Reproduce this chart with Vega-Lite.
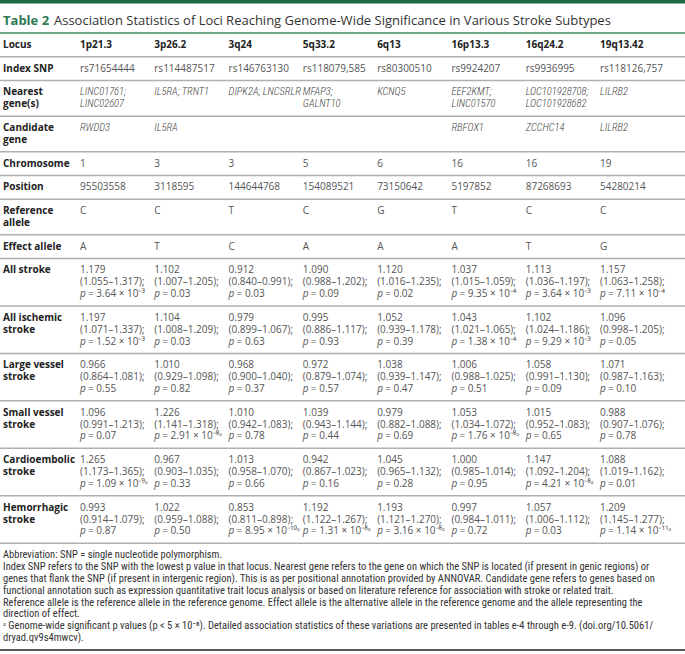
{
"$schema":"https://vega.github.io/schema/vega-lite/v6.json",
"width":685,"height":654,"autosize":{"type":"none"},"padding":0,
"background":"white",
"config":{"view":{"stroke":null},"text":{"align":"left","baseline":"middle","font":"Open Sans"}},
"resolve":{"scale":{"x":"independent"}},
"data":{"values":[
{"slot":"title","col":"label","style":"t1","text":"Table 2"},
{"slot":"title","col":"label","style":"t2","text":"Association Statistics of Loci Reaching Genome-Wide Significance in Various Stroke Subtypes"},
{"slot":"band","style":"band"},{"slot":"top","style":"green"},{"slot":"bottom","style":"black"},
{"slot":"s1","style":"sep"},{"slot":"s2","style":"sep"},{"slot":"s3","style":"sep"},{"slot":"s4","style":"sep"},{"slot":"s5","style":"sep"},{"slot":"s6","style":"sep"},{"slot":"s7","style":"sep"},{"slot":"s8","style":"sep"},{"slot":"s9","style":"sep"},{"slot":"s10","style":"sep"},{"slot":"s11","style":"sep"},{"slot":"s12","style":"sep"},{"slot":"s13","style":"sep"},{"slot":"s14","style":"sep"},
{"slot":"Locus","col":"label","style":"label","text":"Locus"},
{"slot":"Locus","col":"1p21.3","style":"head","text":"1p21.3"},
{"slot":"Locus","col":"3p26.2","style":"head","text":"3p26.2"},
{"slot":"Locus","col":"3q24","style":"head","text":"3q24"},
{"slot":"Locus","col":"5q33.2","style":"head","text":"5q33.2"},
{"slot":"Locus","col":"6q13","style":"head","text":"6q13"},
{"slot":"Locus","col":"16p13.3","style":"head","text":"16p13.3"},
{"slot":"Locus","col":"16q24.2","style":"head","text":"16q24.2"},
{"slot":"Locus","col":"19q13.42","style":"head","text":"19q13.42"},
{"slot":"Index SNP","col":"label","style":"label","text":"Index SNP"},
{"slot":"Nearest 1","col":"label","style":"label","text":"Nearest"},
{"slot":"Nearest 2","col":"label","style":"label","text":"gene(s)"},
{"slot":"Candidate 1","col":"label","style":"label","text":"Candidate"},
{"slot":"Candidate 2","col":"label","style":"label","text":"gene"},
{"slot":"Chromosome","col":"label","style":"label","text":"Chromosome"},
{"slot":"Position","col":"label","style":"label","text":"Position"},
{"slot":"Ref 1","col":"label","style":"label","text":"Reference"},
{"slot":"Ref 2","col":"label","style":"label","text":"allele"},
{"slot":"Effect","col":"label","style":"label","text":"Effect allele"},
{"slot":"AS 1","col":"label","style":"label","text":"All stroke"},
{"slot":"AIS 1","col":"label","style":"label","text":"All ischemic"},
{"slot":"AIS 2","col":"label","style":"label","text":"stroke"},
{"slot":"LV 1","col":"label","style":"label","text":"Large vessel"},
{"slot":"LV 2","col":"label","style":"label","text":"stroke"},
{"slot":"SV 1","col":"label","style":"label","text":"Small vessel"},
{"slot":"SV 2","col":"label","style":"label","text":"stroke"},
{"slot":"CE 1","col":"label","style":"label","text":"Cardioembolic"},
{"slot":"CE 2","col":"label","style":"label","text":"stroke"},
{"slot":"HS 1","col":"label","style":"label","text":"Hemorrhagic"},
{"slot":"HS 2","col":"label","style":"label","text":"stroke"},
{"slot":"Index SNP","col":"1p21.3","style":"value","text":"rs71654444"},
{"slot":"Index SNP","col":"3p26.2","style":"value","text":"rs114487517"},
{"slot":"Index SNP","col":"3q24","style":"value","text":"rs146763130"},
{"slot":"Index SNP","col":"5q33.2","style":"value","text":"rs118079,585"},
{"slot":"Index SNP","col":"6q13","style":"value","text":"rs80300510"},
{"slot":"Index SNP","col":"16p13.3","style":"value","text":"rs9924207"},
{"slot":"Index SNP","col":"16q24.2","style":"value","text":"rs9936995"},
{"slot":"Index SNP","col":"19q13.42","style":"value","text":"rs118126,757"},
{"slot":"Nearest 1","col":"1p21.3","style":"ital","text":"LINC01761;"},
{"slot":"Nearest 2","col":"1p21.3","style":"ital","text":"LINC02607"},
{"slot":"Nearest 1","col":"3p26.2","style":"ital","text":"IL5RA; TRNT1"},
{"slot":"Nearest 1","col":"3q24","style":"ital","text":"DIPK2A; LNCSRLR"},
{"slot":"Nearest 1","col":"5q33.2","style":"ital","text":"MFAP3;"},
{"slot":"Nearest 2","col":"5q33.2","style":"ital","text":"GALNT10"},
{"slot":"Nearest 1","col":"6q13","style":"ital","text":"KCNQ5"},
{"slot":"Nearest 1","col":"16p13.3","style":"ital","text":"EEF2KMT;"},
{"slot":"Nearest 2","col":"16p13.3","style":"ital","text":"LINC01570"},
{"slot":"Nearest 1","col":"16q24.2","style":"ital","text":"LOC101928708;"},
{"slot":"Nearest 2","col":"16q24.2","style":"ital","text":"LOC101928682"},
{"slot":"Nearest 1","col":"19q13.42","style":"ital","text":"LILRB2"},
{"slot":"Candidate 1","col":"1p21.3","style":"ital","text":"RWDD3"},
{"slot":"Candidate 1","col":"3p26.2","style":"ital","text":"IL5RA"},
{"slot":"Candidate 1","col":"16p13.3","style":"ital","text":"RBFOX1"},
{"slot":"Candidate 1","col":"16q24.2","style":"ital","text":"ZCCHC14"},
{"slot":"Candidate 1","col":"19q13.42","style":"ital","text":"LILRB2"},
{"slot":"Chromosome","col":"1p21.3","style":"value","text":"1"},
{"slot":"Chromosome","col":"3p26.2","style":"value","text":"3"},
{"slot":"Chromosome","col":"3q24","style":"value","text":"3"},
{"slot":"Chromosome","col":"5q33.2","style":"value","text":"5"},
{"slot":"Chromosome","col":"6q13","style":"value","text":"6"},
{"slot":"Chromosome","col":"16p13.3","style":"value","text":"16"},
{"slot":"Chromosome","col":"16q24.2","style":"value","text":"16"},
{"slot":"Chromosome","col":"19q13.42","style":"value","text":"19"},
{"slot":"Position","col":"1p21.3","style":"value","text":"95503558"},
{"slot":"Position","col":"3p26.2","style":"value","text":"3118595"},
{"slot":"Position","col":"3q24","style":"value","text":"144644768"},
{"slot":"Position","col":"5q33.2","style":"value","text":"154089521"},
{"slot":"Position","col":"6q13","style":"value","text":"73150642"},
{"slot":"Position","col":"16p13.3","style":"value","text":"5197852"},
{"slot":"Position","col":"16q24.2","style":"value","text":"87268693"},
{"slot":"Position","col":"19q13.42","style":"value","text":"54280214"},
{"slot":"Ref 1","col":"1p21.3","style":"value","text":"C"},
{"slot":"Ref 1","col":"3p26.2","style":"value","text":"C"},
{"slot":"Ref 1","col":"3q24","style":"value","text":"T"},
{"slot":"Ref 1","col":"5q33.2","style":"value","text":"C"},
{"slot":"Ref 1","col":"6q13","style":"value","text":"G"},
{"slot":"Ref 1","col":"16p13.3","style":"value","text":"T"},
{"slot":"Ref 1","col":"16q24.2","style":"value","text":"C"},
{"slot":"Ref 1","col":"19q13.42","style":"value","text":"C"},
{"slot":"Effect","col":"1p21.3","style":"value","text":"A"},
{"slot":"Effect","col":"3p26.2","style":"value","text":"T"},
{"slot":"Effect","col":"3q24","style":"value","text":"C"},
{"slot":"Effect","col":"5q33.2","style":"value","text":"A"},
{"slot":"Effect","col":"6q13","style":"value","text":"A"},
{"slot":"Effect","col":"16p13.3","style":"value","text":"A"},
{"slot":"Effect","col":"16q24.2","style":"value","text":"T"},
{"slot":"Effect","col":"19q13.42","style":"value","text":"G"},
{"slot":"AS 1","col":"1p21.3","style":"value","text":"1.179"},{"slot":"AS 2","col":"1p21.3","style":"value","text":"(1.055–1.317);"},{"slot":"AS 3","col":"1p21.3","style":"p","text":"= 3.64 × 10⁻³"},
{"slot":"AS 1","col":"3p26.2","style":"value","text":"1.102"},{"slot":"AS 2","col":"3p26.2","style":"value","text":"(1.007–1.205);"},{"slot":"AS 3","col":"3p26.2","style":"p","text":"= 0.03"},
{"slot":"AS 1","col":"3q24","style":"value","text":"0.912"},{"slot":"AS 2","col":"3q24","style":"value","text":"(0.840–0.991);"},{"slot":"AS 3","col":"3q24","style":"p","text":"= 0.03"},
{"slot":"AS 1","col":"5q33.2","style":"value","text":"1.090"},{"slot":"AS 2","col":"5q33.2","style":"value","text":"(0.988–1.202);"},{"slot":"AS 3","col":"5q33.2","style":"p","text":"= 0.09"},
{"slot":"AS 1","col":"6q13","style":"value","text":"1.120"},{"slot":"AS 2","col":"6q13","style":"value","text":"(1.016–1.235);"},{"slot":"AS 3","col":"6q13","style":"p","text":"= 0.02"},
{"slot":"AS 1","col":"16p13.3","style":"value","text":"1.037"},{"slot":"AS 2","col":"16p13.3","style":"value","text":"(1.015–1.059);"},{"slot":"AS 3","col":"16p13.3","style":"p","text":"= 9.35 × 10⁻⁴"},
{"slot":"AS 1","col":"16q24.2","style":"value","text":"1.113"},{"slot":"AS 2","col":"16q24.2","style":"value","text":"(1.036–1.197);"},{"slot":"AS 3","col":"16q24.2","style":"p","text":"= 3.64 × 10⁻³"},
{"slot":"AS 1","col":"19q13.42","style":"value","text":"1.157"},{"slot":"AS 2","col":"19q13.42","style":"value","text":"(1.063–1.258);"},{"slot":"AS 3","col":"19q13.42","style":"p","text":"= 7.11 × 10⁻⁴"},
{"slot":"AIS 1","col":"1p21.3","style":"value","text":"1.197"},{"slot":"AIS 2","col":"1p21.3","style":"value","text":"(1.071–1.337);"},{"slot":"AIS 3","col":"1p21.3","style":"p","text":"= 1.52 × 10⁻³"},
{"slot":"AIS 1","col":"3p26.2","style":"value","text":"1.104"},{"slot":"AIS 2","col":"3p26.2","style":"value","text":"(1.008–1.209);"},{"slot":"AIS 3","col":"3p26.2","style":"p","text":"= 0.03"},
{"slot":"AIS 1","col":"3q24","style":"value","text":"0.979"},{"slot":"AIS 2","col":"3q24","style":"value","text":"(0.899–1.067);"},{"slot":"AIS 3","col":"3q24","style":"p","text":"= 0.63"},
{"slot":"AIS 1","col":"5q33.2","style":"value","text":"0.995"},{"slot":"AIS 2","col":"5q33.2","style":"value","text":"(0.886–1.117);"},{"slot":"AIS 3","col":"5q33.2","style":"p","text":"= 0.93"},
{"slot":"AIS 1","col":"6q13","style":"value","text":"1.052"},{"slot":"AIS 2","col":"6q13","style":"value","text":"(0.939–1.178);"},{"slot":"AIS 3","col":"6q13","style":"p","text":"= 0.39"},
{"slot":"AIS 1","col":"16p13.3","style":"value","text":"1.043"},{"slot":"AIS 2","col":"16p13.3","style":"value","text":"(1.021–1.065);"},{"slot":"AIS 3","col":"16p13.3","style":"p","text":"= 1.38 × 10⁻⁴"},
{"slot":"AIS 1","col":"16q24.2","style":"value","text":"1.102"},{"slot":"AIS 2","col":"16q24.2","style":"value","text":"(1.024–1.186);"},{"slot":"AIS 3","col":"16q24.2","style":"p","text":"= 9.29 × 10⁻³"},
{"slot":"AIS 1","col":"19q13.42","style":"value","text":"1.096"},{"slot":"AIS 2","col":"19q13.42","style":"value","text":"(0.998–1.205);"},{"slot":"AIS 3","col":"19q13.42","style":"p","text":"= 0.05"},
{"slot":"LV 1","col":"1p21.3","style":"value","text":"0.966"},{"slot":"LV 2","col":"1p21.3","style":"value","text":"(0.864–1.081);"},{"slot":"LV 3","col":"1p21.3","style":"p","text":"= 0.55"},
{"slot":"LV 1","col":"3p26.2","style":"value","text":"1.010"},{"slot":"LV 2","col":"3p26.2","style":"value","text":"(0.929–1.098);"},{"slot":"LV 3","col":"3p26.2","style":"p","text":"= 0.82"},
{"slot":"LV 1","col":"3q24","style":"value","text":"0.968"},{"slot":"LV 2","col":"3q24","style":"value","text":"(0.900–1.040);"},{"slot":"LV 3","col":"3q24","style":"p","text":"= 0.37"},
{"slot":"LV 1","col":"5q33.2","style":"value","text":"0.972"},{"slot":"LV 2","col":"5q33.2","style":"value","text":"(0.879–1.074);"},{"slot":"LV 3","col":"5q33.2","style":"p","text":"= 0.57"},
{"slot":"LV 1","col":"6q13","style":"value","text":"1.038"},{"slot":"LV 2","col":"6q13","style":"value","text":"(0.939–1.147);"},{"slot":"LV 3","col":"6q13","style":"p","text":"= 0.47"},
{"slot":"LV 1","col":"16p13.3","style":"value","text":"1.006"},{"slot":"LV 2","col":"16p13.3","style":"value","text":"(0.988–1.025);"},{"slot":"LV 3","col":"16p13.3","style":"p","text":"= 0.51"},
{"slot":"LV 1","col":"16q24.2","style":"value","text":"1.058"},{"slot":"LV 2","col":"16q24.2","style":"value","text":"(0.991–1.130);"},{"slot":"LV 3","col":"16q24.2","style":"p","text":"= 0.09"},
{"slot":"LV 1","col":"19q13.42","style":"value","text":"1.071"},{"slot":"LV 2","col":"19q13.42","style":"value","text":"(0.987–1.163);"},{"slot":"LV 3","col":"19q13.42","style":"p","text":"= 0.10"},
{"slot":"SV 1","col":"1p21.3","style":"value","text":"1.096"},{"slot":"SV 2","col":"1p21.3","style":"value","text":"(0.991–1.213);"},{"slot":"SV 3","col":"1p21.3","style":"p","text":"= 0.07"},
{"slot":"SV 1","col":"3p26.2","style":"value","text":"1.226"},{"slot":"SV 2","col":"3p26.2","style":"value","text":"(1.141–1.318);"},{"slot":"SV 3","col":"3p26.2","style":"p","text":"= 2.91 × 10⁻⁸ᵃ"},
{"slot":"SV 1","col":"3q24","style":"value","text":"1.010"},{"slot":"SV 2","col":"3q24","style":"value","text":"(0.942–1.083);"},{"slot":"SV 3","col":"3q24","style":"p","text":"= 0.78"},
{"slot":"SV 1","col":"5q33.2","style":"value","text":"1.039"},{"slot":"SV 2","col":"5q33.2","style":"value","text":"(0.943–1.144);"},{"slot":"SV 3","col":"5q33.2","style":"p","text":"= 0.44"},
{"slot":"SV 1","col":"6q13","style":"value","text":"0.979"},{"slot":"SV 2","col":"6q13","style":"value","text":"(0.882–1.088);"},{"slot":"SV 3","col":"6q13","style":"p","text":"= 0.69"},
{"slot":"SV 1","col":"16p13.3","style":"value","text":"1.053"},{"slot":"SV 2","col":"16p13.3","style":"value","text":"(1.034–1.072);"},{"slot":"SV 3","col":"16p13.3","style":"p","text":"= 1.76 × 10⁻⁸ᵃ"},
{"slot":"SV 1","col":"16q24.2","style":"value","text":"1.015"},{"slot":"SV 2","col":"16q24.2","style":"value","text":"(0.952–1.083);"},{"slot":"SV 3","col":"16q24.2","style":"p","text":"= 0.65"},
{"slot":"SV 1","col":"19q13.42","style":"value","text":"0.988"},{"slot":"SV 2","col":"19q13.42","style":"value","text":"(0.907–1.076);"},{"slot":"SV 3","col":"19q13.42","style":"p","text":"= 0.78"},
{"slot":"CE 1","col":"1p21.3","style":"value","text":"1.265"},{"slot":"CE 2","col":"1p21.3","style":"value","text":"(1.173–1.365);"},{"slot":"CE 3","col":"1p21.3","style":"p","text":"= 1.09 × 10⁻⁹ᵃ"},
{"slot":"CE 1","col":"3p26.2","style":"value","text":"0.967"},{"slot":"CE 2","col":"3p26.2","style":"value","text":"(0.903–1.035);"},{"slot":"CE 3","col":"3p26.2","style":"p","text":"= 0.33"},
{"slot":"CE 1","col":"3q24","style":"value","text":"1.013"},{"slot":"CE 2","col":"3q24","style":"value","text":"(0.958–1.070);"},{"slot":"CE 3","col":"3q24","style":"p","text":"= 0.66"},
{"slot":"CE 1","col":"5q33.2","style":"value","text":"0.942"},{"slot":"CE 2","col":"5q33.2","style":"value","text":"(0.867–1.023);"},{"slot":"CE 3","col":"5q33.2","style":"p","text":"= 0.16"},
{"slot":"CE 1","col":"6q13","style":"value","text":"1.045"},{"slot":"CE 2","col":"6q13","style":"value","text":"(0.965–1.132);"},{"slot":"CE 3","col":"6q13","style":"p","text":"= 0.28"},
{"slot":"CE 1","col":"16p13.3","style":"value","text":"1.000"},{"slot":"CE 2","col":"16p13.3","style":"value","text":"(0.985–1.014);"},{"slot":"CE 3","col":"16p13.3","style":"p","text":"= 0.95"},
{"slot":"CE 1","col":"16q24.2","style":"value","text":"1.147"},{"slot":"CE 2","col":"16q24.2","style":"value","text":"(1.092–1.204);"},{"slot":"CE 3","col":"16q24.2","style":"p","text":"= 4.21 × 10⁻⁸ᵃ"},
{"slot":"CE 1","col":"19q13.42","style":"value","text":"1.088"},{"slot":"CE 2","col":"19q13.42","style":"value","text":"(1.019–1.162);"},{"slot":"CE 3","col":"19q13.42","style":"p","text":"= 0.01"},
{"slot":"HS 1","col":"1p21.3","style":"value","text":"0.993"},{"slot":"HS 2","col":"1p21.3","style":"value","text":"(0.914–1.079);"},{"slot":"HS 3","col":"1p21.3","style":"p","text":"= 0.87"},
{"slot":"HS 1","col":"3p26.2","style":"value","text":"1.022"},{"slot":"HS 2","col":"3p26.2","style":"value","text":"(0.959–1.088);"},{"slot":"HS 3","col":"3p26.2","style":"p","text":"= 0.50"},
{"slot":"HS 1","col":"3q24","style":"value","text":"0.853"},{"slot":"HS 2","col":"3q24","style":"value","text":"(0.811–0.898);"},{"slot":"HS 3","col":"3q24","style":"p","text":"= 8.95 × 10⁻¹⁰ᵃ"},
{"slot":"HS 1","col":"5q33.2","style":"value","text":"1.192"},{"slot":"HS 2","col":"5q33.2","style":"value","text":"(1.122–1.267);"},{"slot":"HS 3","col":"5q33.2","style":"p","text":"= 1.31 × 10⁻⁸ᵃ"},
{"slot":"HS 1","col":"6q13","style":"value","text":"1.193"},{"slot":"HS 2","col":"6q13","style":"value","text":"(1.121–1.270);"},{"slot":"HS 3","col":"6q13","style":"p","text":"= 3.16 × 10⁻⁸ᵃ"},
{"slot":"HS 1","col":"16p13.3","style":"value","text":"0.997"},{"slot":"HS 2","col":"16p13.3","style":"value","text":"(0.984–1.011);"},{"slot":"HS 3","col":"16p13.3","style":"p","text":"= 0.72"},
{"slot":"HS 1","col":"16q24.2","style":"value","text":"1.057"},{"slot":"HS 2","col":"16q24.2","style":"value","text":"(1.006–1.112);"},{"slot":"HS 3","col":"16q24.2","style":"p","text":"= 0.03"},
{"slot":"HS 1","col":"19q13.42","style":"value","text":"1.209"},{"slot":"HS 2","col":"19q13.42","style":"value","text":"(1.145–1.277);"},{"slot":"HS 3","col":"19q13.42","style":"p","text":"= 1.14 × 10⁻¹¹ᵃ"},
{"slot":"n1","col":"label","style":"note","text":"Abbreviation: SNP = single nucleotide polymorphism."},
{"slot":"n2","col":"label","style":"note","text":"Index SNP refers to the SNP with the lowest p value in that locus. Nearest gene refers to the gene on which the SNP is located (if present in genic regions) or"},
{"slot":"n3","col":"label","style":"note","text":"genes that flank the SNP (if present in intergenic region). This is as per positional annotation provided by ANNOVAR. Candidate gene refers to genes based on"},
{"slot":"n4","col":"label","style":"note","text":"functional annotation such as expression quantitative trait locus analysis or based on literature reference for association with stroke or related trait."},
{"slot":"n5","col":"label","style":"note","text":"Reference allele is the reference allele in the reference genome. Effect allele is the alternative allele in the reference genome and the allele representing the"},
{"slot":"n6","col":"label","style":"note","text":"direction of effect."},
{"slot":"n7","col":"label","style":"note","text":"ᵃ Genome-wide significant p values (p < 5 × 10⁻⁸). Detailed association statistics of these variations are presented in tables e-4 through e-9. (doi.org/10.5061/"},
{"slot":"n8","col":"label","style":"note","text":"dryad.qv9s4mwcv)."}
]},
"encoding":{"y":{"field":"slot","type":"nominal","axis":null,"scale":{"type":"point","padding":0,"range":[-2.5,650],"domain":["band","pad","title","top","Locus","s1","Index SNP","s2","Nearest 1","Nearest 2","s3","Candidate 1","Candidate 2","s4","Chromosome","s5","Position","s6","Ref 1","Ref 2","s7","Effect","s8","AS 1","AS 2","AS 3","s9","AIS 1","AIS 2","AIS 3","s10","LV 1","LV 2","LV 3","s11","SV 1","SV 2","SV 3","s12","CE 1","CE 2","CE 3","s13","HS 1","HS 2","HS 3","s14","n1","n2","n3","n4","n5","n6","n7","n8","bottom"]}}},
"layer":[
{"transform":[{"filter":"datum.style==='sep'"}],"mark":{"type":"rule","color":"#b0b0b0","strokeWidth":1.5},"encoding":{}},
{"transform":[{"filter":"datum.style==='green'"}],"mark":{"type":"rule","color":"#3d8c63","strokeWidth":1.5},"encoding":{}},
{"transform":[{"filter":"datum.style==='band'"}],"mark":{"type":"rule","color":"#1d6a45","strokeWidth":12},"encoding":{}},
{"transform":[{"filter":"datum.style==='black'"}],"mark":{"type":"rule","color":"#222222","strokeWidth":1.5},"encoding":{}},
{"transform":[{"filter":"datum.style==='t1'"}],"mark":{"type":"text","fontSize":13,"fontWeight":"bold","color":"#2b7a55"},
 "encoding":{"text":{"field":"text"},"x":{"field":"col","type":"nominal","axis":null,"scale":{"type":"point","padding":0,"range":[3,3],"domain":["label"]}}}},
{"transform":[{"filter":"datum.style==='t2'"}],"mark":{"type":"text","fontSize":13,"color":"#333333","dx":51},
 "encoding":{"text":{"field":"text"},"x":{"field":"col","type":"nominal","axis":null,"scale":{"type":"point","padding":0,"range":[3,3],"domain":["label"]}}}},
{"transform":[{"filter":"datum.style==='label'"}],"mark":{"type":"text","fontSize":10,"fontWeight":"bold","color":"#222222"},
 "encoding":{"text":{"field":"text"},"x":{"field":"col","type":"nominal","axis":null,"scale":{"type":"point","padding":0,"range":[3,3],"domain":["label"]}}}},
{"transform":[{"filter":"datum.style==='head'"}],"mark":{"type":"text","fontSize":10,"fontWeight":"bold","color":"#222222"},
 "encoding":{"text":{"field":"text"},"x":{"field":"col","type":"nominal","axis":null,"scale":{"type":"point","padding":0,"range":[80,600],"domain":["1p21.3","3p26.2","3q24","5q33.2","6q13","16p13.3","16q24.2","19q13.42"]}}}},
{"transform":[{"filter":"datum.style==='value'"}],"mark":{"type":"text","fontSize":10,"color":"#555555"},
 "encoding":{"text":{"field":"text"},"x":{"field":"col","type":"nominal","axis":null,"scale":{"type":"point","padding":0,"range":[80,600],"domain":["1p21.3","3p26.2","3q24","5q33.2","6q13","16p13.3","16q24.2","19q13.42"]}}}},
{"transform":[{"filter":"datum.style==='ital'"}],"mark":{"type":"text","fontSize":10.5,"fontStyle":"italic","fontWeight":300,"color":"#444444","font":"Roboto Condensed, Roboto"},
 "encoding":{"text":{"field":"text"},"x":{"field":"col","type":"nominal","axis":null,"scale":{"type":"point","padding":0,"range":[80,600],"domain":["1p21.3","3p26.2","3q24","5q33.2","6q13","16p13.3","16q24.2","19q13.42"]}}}},
{"transform":[{"filter":"datum.style==='p'"}],"mark":{"type":"text","fontSize":10,"fontStyle":"italic","color":"#555555","text":"p"},
 "encoding":{"x":{"field":"col","type":"nominal","axis":null,"scale":{"type":"point","padding":0,"range":[80,600],"domain":["1p21.3","3p26.2","3q24","5q33.2","6q13","16p13.3","16q24.2","19q13.42"]}}}},
{"transform":[{"filter":"datum.style==='p'"}],"mark":{"type":"text","fontSize":10,"color":"#555555","dx":8},
 "encoding":{"text":{"field":"text"},"x":{"field":"col","type":"nominal","axis":null,"scale":{"type":"point","padding":0,"range":[80,600],"domain":["1p21.3","3p26.2","3q24","5q33.2","6q13","16p13.3","16q24.2","19q13.42"]}}}},
{"transform":[{"filter":"datum.style==='note'"}],"mark":{"type":"text","fontSize":10.5,"color":"#333333","font":"Roboto Condensed, Roboto"},
 "encoding":{"text":{"field":"text"},"x":{"field":"col","type":"nominal","axis":null,"scale":{"type":"point","padding":0,"range":[3,3],"domain":["label"]}}}}
]
}
